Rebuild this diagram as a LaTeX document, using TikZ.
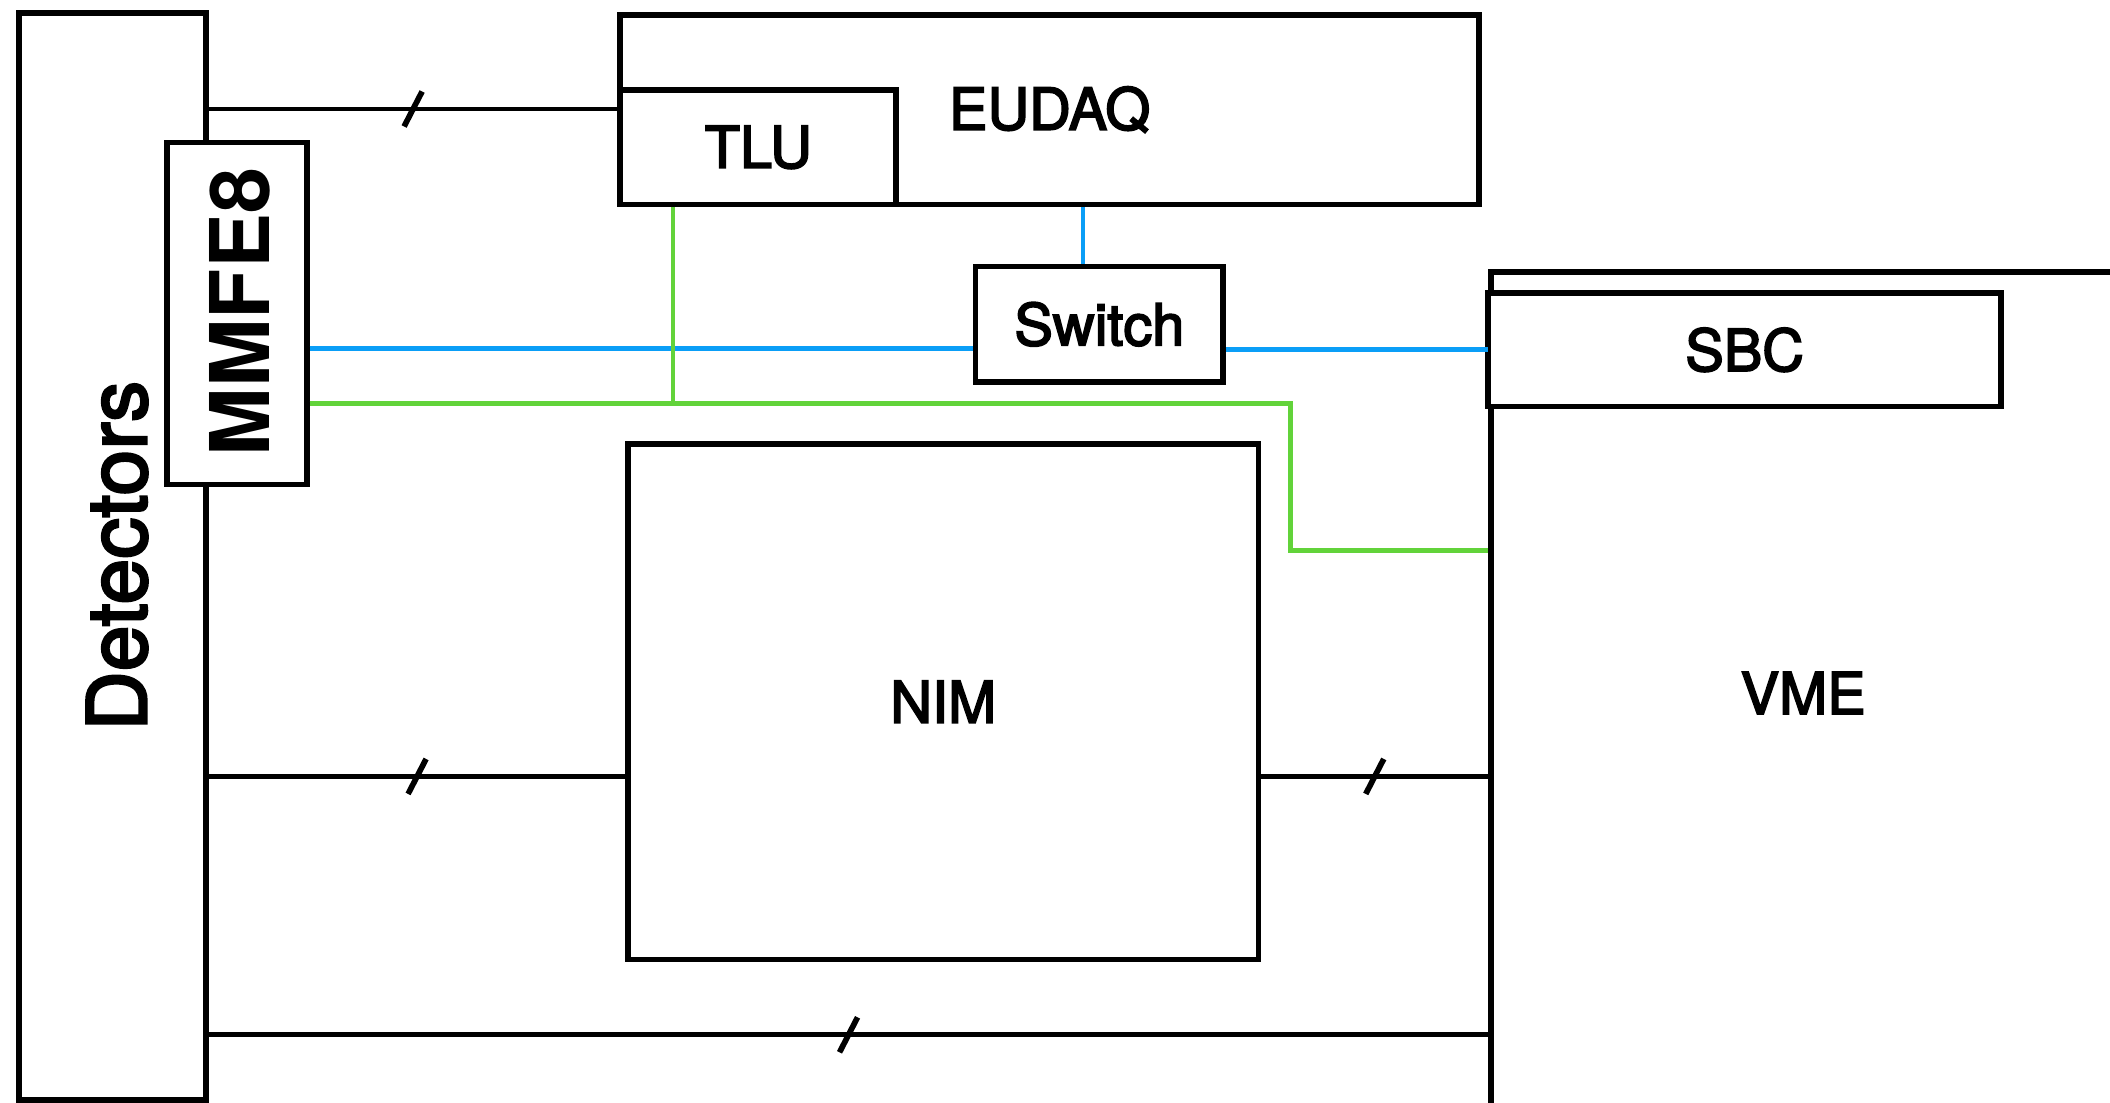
\documentclass[tikz,border=0pt]{standalone}
\usepackage{fontspec}
\setmainfont{TeX Gyre Heros}
\newfontfamily\medfont{TeX Gyre Heros}[FakeBold=3]
\usetikzlibrary{positioning}
\definecolor{Eth}{HTML}{0A9EF7}
\definecolor{Trig}{HTML}{62D33A}
\tikzset{
  box/.style={draw,line width=1.2pt,fill=white,inner sep=0pt,font=\medfont\fontsize{12.2}{14}\selectfont},
  big/.style={rotate=90,inner sep=0pt,font=\medfont\fontsize{17.4}{20}\selectfont},
  wire/.style={line width=1.05pt},
  busmark/.pic={\draw[line width=1.2pt] (-6.7,13) -- (6.7,-13);}
}
\begin{document}
\begin{tikzpicture}[x=0.01cm,y=-0.01cm]
  \useasboundingbox (0,0) rectangle (1568,819);
  \clip (0,0) rectangle (1568,819);
  \node[box,minimum width=1.39cm,minimum height=8.07cm] (det) at (83.5,413.5) {};
  \node[big] (detlabel) at (87,413) {Detectors};
  \node[box,minimum width=6.38cm,minimum height=1.41cm] (eudaq) at (780,81.5) {EUDAQ};
  \node[box,minimum width=2.05cm,minimum height=0.85cm] (tlu) at (563.5,109.5) {TLU};
  \node[box,minimum width=1.04cm,minimum height=2.54cm] (mmfe) at (176,233) {};
  \node[big,font=\bfseries\fontsize{17.4}{20}\selectfont] (mmfelabel) at (178,232) {MMFE8};
  \node[box,minimum width=1.84cm,minimum height=0.86cm] (switch) at (817,241) {Switch};
  \node[box,minimum width=4.68cm,minimum height=3.83cm] (nim) at (701,521.5) {NIM};
  \node[box,minimum width=5cm,minimum height=7cm,anchor=north west] (vme) at (1106,200) {};
  \node[font=\medfont\fontsize{12.2}{14}\selectfont] (vmelabel) at (1340,515) {VME};
  \node[box,minimum width=3.81cm,minimum height=0.84cm] (sbc) at (1296.5,260) {SBC};
  \draw[wire] (det.east |- 0,81) -- (tlu.west |- 0,81) pic[pos=0.5] {busmark};
  \draw[wire] (det.east |- 0,577) -- (nim.west |- 0,577) pic[pos=0.5] {busmark};
  \draw[wire] (nim.east |- 0,577) -- (vme.west |- 0,577) pic[pos=0.5] {busmark};
  \draw[wire] (det.east |- 0,769) -- (vme.west |- 0,769) pic[pos=0.5] {busmark};
  \draw[Eth,wire] (mmfe.east |- 0,259) -- (switch.west |- 0,259);
  \draw[Eth,wire] (switch.east |- 0,260) -- (vme.west |- 0,260);
  \draw[Eth,line width=0.8pt] (switch.north -| 805,0) -- (eudaq.south -| 805,0);
  \draw[Trig,wire] (mmfe.east |- 0,300) -| (959,409) -- (vme.west |- 0,409);
  \draw[Trig,line width=0.8pt] (tlu.south -| 500,0) -- (500,300);
\end{tikzpicture}
\end{document}
